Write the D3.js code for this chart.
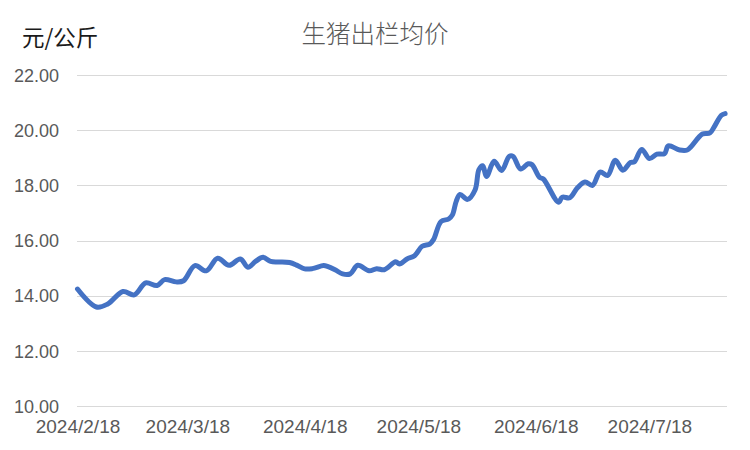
<!DOCTYPE html>
<html><head><meta charset="utf-8">
<script src="https://cdn.jsdelivr.net/npm/d3@7"></script>
<style>html,body{margin:0;padding:0;background:#fff;}</style>
</head><body>
<svg id="chart" width="750" height="450"></svg>
<script>
const title = "生猪出栏均价";
const unitLabel = "元/公斤";
const dates = ["2024-02-18","2024-02-23","2024-02-26","2024-03-01","2024-03-04","2024-03-07","2024-03-10","2024-03-12","2024-03-15","2024-03-17","2024-03-20","2024-03-23","2024-03-26","2024-03-29","2024-04-01","2024-04-03","2024-04-05","2024-04-07","2024-04-09","2024-04-11","2024-04-14","2024-04-16","2024-04-18","2024-04-20","2024-04-23","2024-04-24","2024-04-26","2024-04-28","2024-04-30","2024-05-02","2024-05-05","2024-05-07","2024-05-09","2024-05-12","2024-05-13","2024-05-15","2024-05-17","2024-05-19","2024-05-21","2024-05-22","2024-05-24","2024-05-26","2024-05-27","2024-05-28","2024-05-29","2024-05-31","2024-06-02","2024-06-03","2024-06-04","2024-06-05","2024-06-07","2024-06-09","2024-06-11","2024-06-12","2024-06-14","2024-06-16","2024-06-17","2024-06-19","2024-06-20","2024-06-24","2024-06-25","2024-06-27","2024-06-29","2024-07-01","2024-07-03","2024-07-05","2024-07-07","2024-07-09","2024-07-11","2024-07-13","2024-07-14","2024-07-16","2024-07-18","2024-07-20","2024-07-22","2024-07-23","2024-07-26","2024-07-28","2024-07-29","2024-08-01","2024-08-03","2024-08-04","2024-08-06","2024-08-07"];
const prices = [14.24,13.59,13.70,14.15,14.03,14.46,14.37,14.58,14.50,14.54,15.09,14.90,15.36,15.10,15.33,15.03,15.24,15.39,15.24,15.22,15.20,15.10,14.97,14.98,15.09,15.06,14.94,14.79,14.79,15.10,14.90,14.98,14.94,15.23,15.15,15.33,15.45,15.79,15.87,16.03,16.69,16.78,16.93,17.42,17.67,17.49,17.84,18.57,18.71,18.32,18.87,18.54,19.05,19.05,18.59,18.78,18.75,18.29,18.23,17.39,17.57,17.55,17.91,18.12,18.00,18.48,18.36,18.91,18.55,18.83,18.85,19.30,18.97,19.13,19.15,19.43,19.28,19.28,19.40,19.86,19.90,20.09,20.54,20.60];
const yTicks = [10,12,14,16,18,20,22];
const xTickDates = ["2024-02-18","2024-03-18","2024-04-18","2024-05-18","2024-06-18","2024-07-18"];

const parse = d3.timeParse("%Y-%m-%d");
const data = dates.map((d,i)=>({date: parse(d), value: prices[i]}));
const svg = d3.select("#chart");

const DAY = 86400000;
const d0 = parse("2024-02-18");
const x = d3.scaleTime()
  .domain([d0, new Date(+d0 + 171.5*DAY)])
  .range([77.5, 727]);
const y = d3.scaleLinear().domain([10,22]).range([406,75]);

// gridlines
svg.append("g").selectAll("line").data(yTicks).join("line")
  .attr("x1",77).attr("x2",727)
  .attr("y1",d=>Math.round(y(d))+0.5).attr("y2",d=>Math.round(y(d))+0.5)
  .attr("stroke","#d9d9d9").attr("stroke-width",1);

const tickFont = "'Liberation Sans',Arial,sans-serif";
// y labels
const yAxis = d3.axisLeft(y).tickValues(yTicks).tickFormat(d3.format(".2f")).tickSize(0).tickPadding(0);
const gy = svg.append("g").attr("transform","translate(59,0)").call(yAxis);
gy.select(".domain").remove();
gy.selectAll("text").attr("fill","#595959").style("font-family",tickFont).style("font-size","18px").attr("dy","0.35em");

// x labels
const xAxis = d3.axisBottom(x).tickValues(xTickDates.map(parse))
  .tickFormat(d=>`${d.getFullYear()}/${d.getMonth()+1}/${d.getDate()}`).tickSize(0).tickPadding(0);
const gx = svg.append("g").attr("transform","translate(0,418)").call(xAxis);
gx.select(".domain").remove();
gx.selectAll("text").attr("fill","#595959").style("font-family",tickFont).style("font-size","19px").attr("dy","0.8em");

// line
const line = d3.line().x(d=>x(d.date)).y(d=>y(d.value)).curve(d3.curveCatmullRom.alpha(0.5));
svg.append("path").datum(data).attr("d",line)
  .attr("fill","none").attr("stroke","#4472C4").attr("stroke-width",5)
  .attr("stroke-linejoin","round").attr("stroke-linecap","round");

// title
svg.append("text").attr("x",375).attr("y",43).attr("text-anchor","middle")
  .attr("fill","#595959").style("font-family","'Noto Sans CJK SC',sans-serif").style("font-size","24.5px").style("font-weight","300")
  .text(title);
svg.append("text").attr("x",22).attr("y",46)
  .attr("fill","#1a1a1a").style("font-family","'Noto Sans CJK SC',sans-serif").style("font-size","22.5px")
  .text(unitLabel);
</script>
</body></html>
